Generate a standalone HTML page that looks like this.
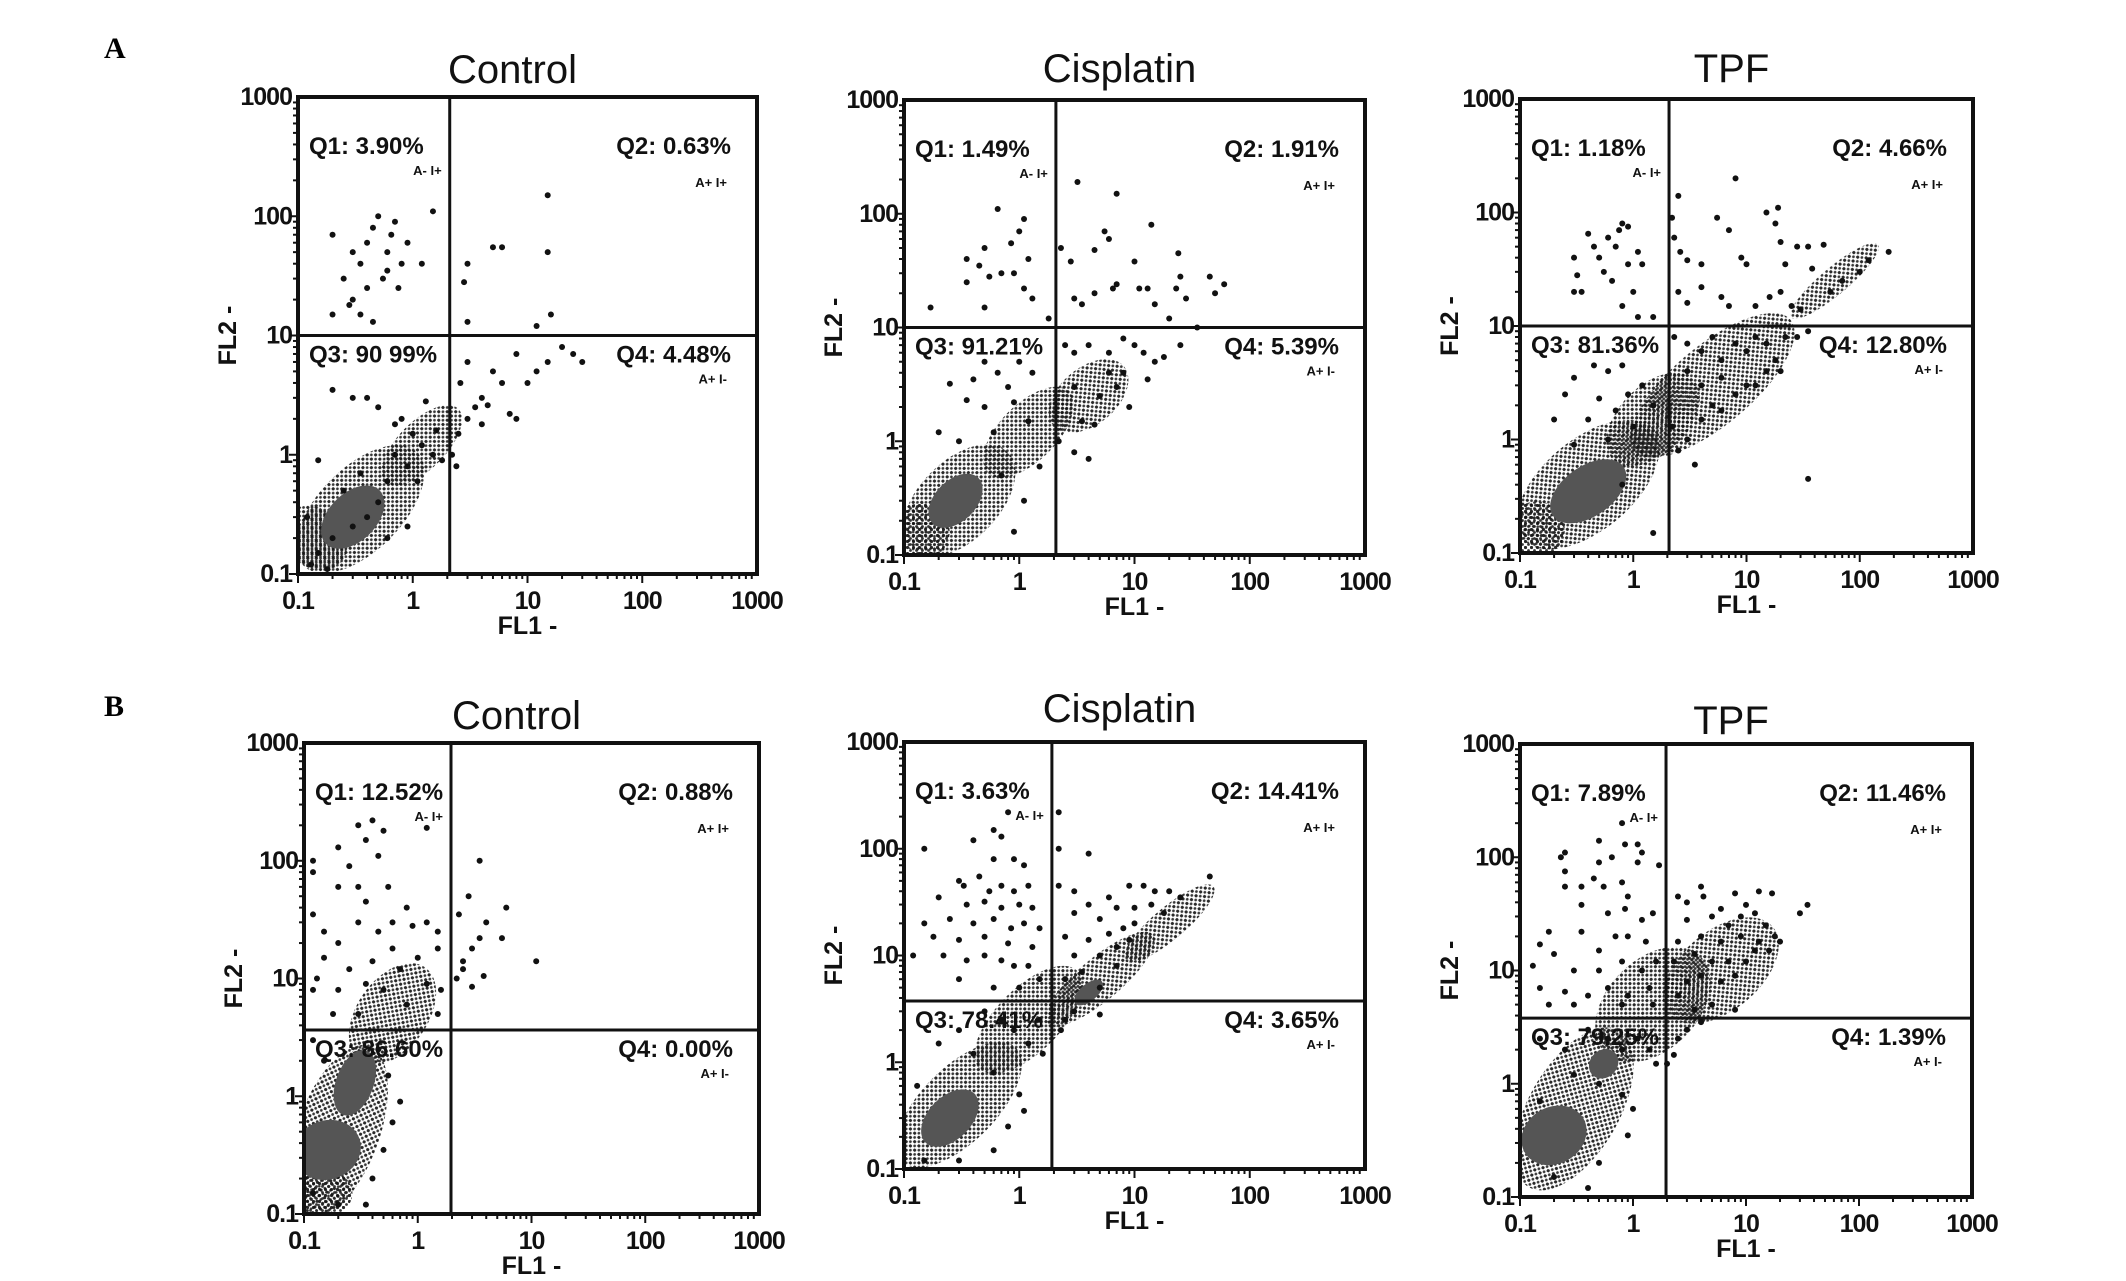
<!DOCTYPE html>
<html><head><meta charset="utf-8">
<style>
html,body{margin:0;padding:0;background:#fff;}
svg{display:block;}
text{font-family:"Liberation Sans",Arial,sans-serif;}
</style></head>
<body>
<svg id="fig" width="2126" height="1281" viewBox="0 0 2126 1281" xmlns="http://www.w3.org/2000/svg">
<defs>
<pattern id="dots" width="6" height="6" patternUnits="userSpaceOnUse">
<circle cx="1.5" cy="1.5" r="1.6" fill="#111"/><circle cx="4.5" cy="4.5" r="1.4" fill="#222"/>
</pattern>
</defs>
<text x="104" y="58" font-weight="bold" font-size="30" style="font-family:'Liberation Serif',serif">A</text>
<text x="104" y="716" font-weight="bold" font-size="30" style="font-family:'Liberation Serif',serif">B</text>
</svg>
<script>
// Panel titles and quadrant percentages
const titles = ["Control","Cisplatin","TPF","Control","Cisplatin","TPF"];
const q1Labels = ["3.90%","1.49%","1.18%","12.52%","3.63%","7.89%"];
const q2Labels = ["0.63%","1.91%","4.66%","0.88%","14.41%","11.46%"];
const q3Labels = ["90 99%","91.21%","81.36%","86.60%","78.41%","79.25%"];
const q4Labels = ["4.48%","5.39%","12.80%","0.00%","3.65%","1.39%"];
// Gate positions (data units)
const gateX = [2.1, 2.08, 2.07, 1.96, 1.92, 1.96];
const gateY = [10, 10, 10, 3.65, 3.75, 3.8];
// Axis ticks
const tickValues = [0.1, 1, 10, 100, 1000];
const tickLabels = ["0.1","1","10","100","1000"];

// Scatter points [FL1, FL2]
const ptsA1 = [[0.2,70],[0.25,30],[0.3,50],[0.35,40],[0.4,60],[0.45,80],[0.5,100],[0.6,50],[0.7,90],[0.8,40],[0.3,20],[0.4,25],[0.55,30],[0.65,70],[0.35,15],[1.5,110],[0.2,15],[0.28,18],[0.45,13],[0.6,35],[0.75,25],[0.9,60],[1.2,40],
[15,150],[3,40],[5,55],[6,55],[15,50],[3,13],[16,15],[12,12],[2.8,28],
[3,6],[5,5],[8,7],[15,6],[20,8],[30,6],[4,3],[6,4],[8,2],[3,2],[2.5,1.5],[3.5,2.5],[2.2,1],[4,1.8],[10,4],[2.6,4],[7,2.2],[12,5],[25,7],[4.5,2.6],[2.4,0.8],
[0.3,3],[0.5,2.5],[0.8,2],[1,1.5],[1.2,1.2],[0.7,1],[0.9,0.8],[1.5,1],[0.6,0.6],[0.5,0.4],[0.4,0.3],[0.3,0.25],[0.2,0.2],[0.15,0.15],[0.12,0.3],[0.25,0.5],[0.35,0.7],[1.1,0.6],[1.8,0.9],[0.15,0.9],[0.2,3.5],[0.4,3],[0.13,0.12],[0.18,0.11],[0.6,0.2],[0.9,0.25],[1.3,2.8],[0.7,1.8],[1.6,1.6]];
const ptsA2 = [[0.17,15],[0.35,40],[0.35,25],[0.45,35],[0.5,15],[0.5,50],[0.55,28],[0.65,110],[0.85,55],[0.9,30],[1,70],[1.1,90],[1.1,22],[1.2,40],[1.3,18],[0.7,30],[1.8,12],
[3.2,190],[7,150],[2.3,50],[2.8,38],[4.5,48],[5.5,70],[6,60],[6.5,22],[7,24],[10,38],[11,22],[14,80],[13,22],[15,16],[20,12],[24,45],[25,28],[23,22],[28,18],[35,10],[45,28],[50,20],[60,24],[3.5,16],[4.5,20],[3,18],
[2.5,7],[3,6],[4,7],[6,6],[8,8],[10,7],[12,6],[15,5],[18,5.5],[25,7],[6,4],[8,4],[13,3.5],[5,2.5],[7,3],[9,2],[3.5,1.5],[4.5,1.4],[3,0.8],[4,0.7],[2.2,1],[3,3],
[0.25,3.2],[0.4,3.5],[0.5,5],[0.65,4],[0.8,3],[1,5],[1.3,4],[0.35,2.3],[0.5,2],[0.9,2.2],[1.2,1.5],[0.6,1.2],[0.2,1.2],[0.3,1],[0.9,0.16],[1.1,0.3],[1.5,0.6],[0.7,0.5]];
const ptsA3 = [[0.3,40],[0.32,28],[0.3,20],[0.35,20],[0.4,65],[0.45,50],[0.5,40],[0.55,30],[0.6,60],[0.7,50],[0.75,70],[0.8,80],[0.9,75],[0.9,35],[1,20],[1.1,45],[1.2,35],[0.8,15],[1.1,12],[1.5,12],[0.65,25],
[2.2,90],[2.5,140],[2.3,60],[2.6,45],[3,38],[4,35],[5.5,90],[7,70],[8,200],[9,40],[10,35],[15,100],[19,110],[18,80],[20,55],[22,35],[28,50],[35,50],[38,32],[48,52],[4,22],[6,18],[7,15],[12,15],[16,18],[20,20],[25,15],[30,14],[3,16],[2.5,20],[100,30],[120,38],[180,45],[70,25],[55,20],
[2.3,8],[3,7],[4,6],[5,8],[6,5],[8,7],[10,6],[12,8],[15,7],[18,5],[22,8],[28,8],[35,9],[3,4],[4,3],[6,3.5],[8,2.5],[10,3],[12,3],[15,4],[4,1.5],[5,2],[3,1],[2.5,0.8],[3.5,0.6],[2.2,1.3],[35,0.45],[6,1.8],[20,4],
[0.3,3.5],[0.45,4.5],[0.6,4],[0.8,4.5],[0.9,2.5],[1.2,3],[0.25,2.5],[0.4,1.5],[0.5,2.3],[0.7,1.8],[1,1.3],[1.5,2],[0.2,1.5],[0.3,0.9],[0.6,1],[1.5,0.15],[0.8,0.4]];
const ptsB1 = [[0.12,100],[0.12,80],[0.2,130],[0.25,90],[0.3,200],[0.35,150],[0.4,220],[0.45,110],[0.5,180],[1.2,190],[0.2,60],[0.3,60],[0.35,45],[0.55,60],[0.8,40],[1.2,30],[0.12,35],[0.15,25],[0.2,20],[0.3,30],[0.45,25],[0.6,30],[0.9,28],[1.5,25],[0.15,15],[0.25,12],[0.4,14],[0.6,18],[1,15],[1.5,18],[0.12,8],[0.2,8],[0.35,9],[0.5,8],[1.2,9],[1.6,8],[0.18,5],[0.3,5],[0.8,6],[1.5,5],[0.13,10],[0.7,12],
[3.5,100],[2.8,50],[6,40],[2.3,35],[4,30],[3.5,22],[5.5,22],[3,18],[2.5,14],[11,14],[3.8,10.5],[2.2,10],[3,8.5],[2.5,12],
[0.12,3],[0.15,2],[0.45,2.5],[0.55,1.5],[0.6,0.6],[0.5,0.35],[0.4,0.2],[0.35,0.12],[0.12,0.15],[0.2,0.12],[0.7,0.9]];
const ptsB2 = [[0.4,120],[0.6,150],[0.7,130],[0.8,220],[0.15,100],[0.9,80],[1.1,70],[0.6,80],[0.3,50],[0.33,45],[0.45,55],[0.55,40],[0.7,45],[0.9,40],[1.2,45],[0.2,35],[0.35,30],[0.5,32],[0.7,28],[1,30],[1.3,28],[0.15,20],[0.25,22],[0.4,20],[0.6,22],[0.85,18],[1.1,20],[1.5,18],[0.18,15],[0.3,14],[0.5,15],[0.8,13],[1.3,12],[0.12,10],[0.22,10],[0.35,9],[0.5,10],[0.7,9],[0.9,8],[1.2,8],[1.5,6],[0.3,6],[0.6,5],[1,5],
[2.2,220],[2.2,100],[4,90],[2.2,45],[3,40],[4,30],[6,35],[9,45],[12,45],[15,40],[20,40],[25,35],[45,55],[3,25],[5,22],[7,28],[10,28],[14,30],[18,25],[2.5,15],[4,14],[6,16],[8,18],[10,20],[3,10],[5,10],[7,12],[2.5,6],[3.5,7],[7,8],[5,5],[9,14],
[5,2.8],[3,3],[2.5,2.5],[2.3,2],
[0.2,1.5],[0.3,2],[0.5,3],[0.7,2.5],[0.9,2],[1.2,1.5],[1.5,2.5],[0.4,1.2],[0.6,0.8],[1,0.5],[1.1,0.35],[0.8,0.25],[0.6,0.15],[0.3,0.12],[0.15,0.12],[0.13,0.6],[1.6,1.2]];
const ptsB3 = [[0.25,110],[0.23,100],[0.5,140],[0.65,100],[0.8,200],[0.85,130],[1.1,130],[1.2,110],[1.1,90],[0.5,90],[0.25,75],[0.25,55],[0.35,55],[0.45,65],[0.55,55],[0.8,60],[0.9,45],[1.7,85],[0.35,38],[0.6,32],[0.85,35],[1.2,28],[1.5,32],[0.15,17],[0.18,22],[0.35,22],[0.5,15],[0.7,20],[0.9,20],[1.3,18],[1.6,12],[0.13,11],[0.2,14],[0.3,10],[0.5,10],[0.8,12],[1.2,10],[0.15,7],[0.25,6.5],[0.4,6],[0.6,7],[0.9,6],[1.4,7],[0.18,5],[0.3,5],[0.8,5],[1.5,5],
[2.5,45],[3,40],[4,55],[4.2,45],[6,35],[8,48],[10,38],[13,50],[17,48],[35,38],[30,32],[3,28],[5,30],[7,25],[9,30],[12,32],[15,25],[18,20],[20,18],[2.5,18],[4,20],[6,18],[9,20],[13,18],[2.3,12],[3.5,14],[5,12],[7,12],[10,12],[3,8],[4,9],[6,8],[8,9],[2.5,6],[5,5],[8,4.5],[3.5,4.5],[12,15],[16,15],
[3,3],[4,3.5],[2.5,2.5],[2.3,1.8],[2,1.5],
[0.15,2.5],[0.25,2],[0.4,3],[0.6,2.5],[0.8,2],[1.1,2.5],[1.4,2],[0.3,1.2],[0.5,1],[0.8,0.8],[1,0.6],[0.9,0.35],[0.5,0.2],[0.4,0.12],[0.2,0.15],[0.15,0.7],[1.6,1.5]];

// Dense populations [FL1, FL2, major(decades), minor(decades), angleDeg, kind]
const clA1 = [[0.35,0.35,0.7,0.35,45,"halo"],[1.2,1.2,0.45,0.2,45,"halo"],[0.14,0.2,0.25,0.3,45,"halo"],[0.3,0.3,0.33,0.2,45,"core"]];
const clA2 = [[0.3,0.3,0.6,0.35,45,"halo"],[1.2,1.2,0.5,0.25,45,"halo"],[4,2.5,0.4,0.25,40,"halo"],[0.14,0.16,0.25,0.25,0,"halo"],[0.28,0.3,0.28,0.18,45,"core"]];
const clA3 = [[0.4,0.4,0.75,0.4,40,"halo"],[5,3,0.9,0.35,40,"halo"],[1.5,1.5,0.5,0.3,45,"halo"],[60,25,0.5,0.12,40,"halo"],[0.14,0.16,0.25,0.25,0,"halo"],[0.4,0.35,0.38,0.22,35,"core"]];
const clB1 = [[0.2,0.5,0.8,0.35,70,"halo"],[0.6,5,0.5,0.3,55,"halo"],[0.15,0.15,0.25,0.2,0,"halo"],[0.16,0.35,0.3,0.25,20,"core"],[0.28,1.3,0.3,0.16,70,"core"]];
const clB2 = [[0.3,0.4,0.7,0.35,45,"halo"],[1.2,2.5,0.6,0.3,45,"halo"],[5,6,0.6,0.2,40,"halo"],[20,20,0.5,0.15,40,"halo"],[0.25,0.3,0.3,0.2,45,"core"],[4,4.5,0.15,0.08,40,"core"]];
const clB3 = [[0.3,0.6,0.8,0.4,60,"halo"],[1.5,5,0.6,0.4,45,"halo"],[6,10,0.6,0.35,40,"halo"],[0.2,0.35,0.3,0.25,30,"core"],[0.55,1.5,0.14,0.12,45,"core"]];

const allPts = [ptsA1,ptsA2,ptsA3,ptsB1,ptsB2,ptsB3];
const allCl = [clA1,clA2,clA3,clB1,clB2,clB3];

// Layout (pixels)
const frames = [
 {l:298,r:757,t:97,b:574,ty:83},
 {l:904,r:1365,t:100,b:555,ty:82},
 {l:1520,r:1973,t:99,b:553,ty:82},
 {l:304,r:759,t:743,b:1214,ty:729},
 {l:904,r:1365,t:742,b:1169,ty:722},
 {l:1520,r:1972,t:744,b:1197,ty:734}
];
const NS="http://www.w3.org/2000/svg";
const svg=document.getElementById('fig');
function mk(tag,attrs,parent){const e=document.createElementNS(NS,tag);for(const k in attrs)e.setAttribute(k,attrs[k]);(parent||svg).appendChild(e);return e;}
function lg(v){return Math.log10(v)+1;}

frames.forEach((f,i)=>{
  const W=f.r-f.l,H=f.b-f.t;
  const sx=v=>f.l+lg(v)/4*W;
  const sy=v=>f.b-lg(v)/4*H;
  const g=mk('g',{});
  
  
  const clip=mk('clipPath',{id:'clip'+i},g);
  mk('rect',{x:f.l,y:f.t,width:W,height:H},clip);
  const data=mk('g',{'clip-path':'url(#clip'+i+')'},g);
  allCl[i].forEach(c=>{
    const cx=sx(c[0]),cy=sy(c[1]);
    const e=mk('ellipse',{cx:cx,cy:cy,rx:c[2]/4*W,ry:c[3]/4*H,transform:'rotate('+(-c[4])+' '+cx+' '+cy+')',fill:c[5]==='core'?'#555':'url(#dots)','fill-opacity':c[5]==='core'?1:0.9},data);
    
    
  });
  allPts[i].forEach(p=>{
    const d=mk('circle',{cx:sx(p[0]),cy:sy(p[1]),r:3,fill:'#111'},data);
    
    
  });
  const gx=mk('line',{x1:sx(gateX[i]),x2:sx(gateX[i]),y1:f.t,y2:f.b,stroke:'#111','stroke-width':3},g);
  
  
  const gy=mk('line',{x1:f.l,x2:f.r,y1:sy(gateY[i]),y2:sy(gateY[i]),stroke:'#111','stroke-width':3},g);
  
  
  const fr=mk('rect',{x:f.l,y:f.t,width:W,height:H,fill:'none',stroke:'#111','stroke-width':4},g);
  
  
  for(let dec=0;dec<4;dec++){
    for(let m=1;m<10;m++){
      const v=Math.pow(10,dec-1)*m;
      const len=m===1?9:5;
      mk('line',{x1:f.l,x2:f.l-len,y1:sy(v),y2:sy(v),stroke:'#111','stroke-width':2},g);
      mk('line',{x1:sx(v),x2:sx(v),y1:f.b,y2:f.b+len,stroke:'#111','stroke-width':2},g);
    }
  }
  tickValues.forEach((v,k)=>{
    const ty=mk('text',{x:f.l-6,y:sy(v)+8,'text-anchor':'end','font-size':25,'font-weight':'bold',fill:'#111','letter-spacing':'-1'},g);
    ty.textContent=tickLabels[k];
    
    
    const tx=mk('text',{x:sx(v),y:f.b+35,'text-anchor':'middle','font-size':25,'font-weight':'bold',fill:'#111','letter-spacing':'-1'},g);
    tx.textContent=tickLabels[k];
    
    
  });
  const xt=mk('text',{x:(f.l+f.r)/2,y:f.b+60,'text-anchor':'middle','font-size':25,'font-weight':'bold',fill:'#111'},g);
  xt.textContent='FL1 -';
  
  
  const yc=(f.t+f.b)/2, yx=f.l-62;
  const yt=mk('text',{x:yx,y:yc,'text-anchor':'middle','font-size':25,'font-weight':'bold',fill:'#111',transform:'rotate(-90 '+yx+' '+yc+')'},g);
  yt.textContent='FL2 -';
  
  
  const tt=mk('text',{x:(f.l+f.r)/2-15,y:f.ty,'text-anchor':'middle','font-size':40,fill:'#111'},g);
  tt.textContent=titles[i];
  
  
  const vx=sx(gateX[i]), hy=sy(gateY[i]);
  const q=[['Q1: '+q1Labels[i],f.l+11,f.t+57,'start','q1-label'],['Q2: '+q2Labels[i],f.r-26,f.t+57,'end','q2-label'],['Q3: '+q3Labels[i],f.l+11,hy+27,'start','q3-label'],['Q4: '+q4Labels[i],f.r-26,hy+27,'end','q4-label']];
  q.forEach(a=>{
    const t=mk('text',{x:a[1],y:a[2],'text-anchor':a[3],'font-size':24,'font-weight':'bold',fill:'#111'},g);
    t.textContent=a[0];
    
    
  });
  const s=[['A- I+',vx-8,f.t+78,'q1-sublabel'],['A+ I+',f.r-30,f.t+90,'q2-sublabel'],['A+ I-',f.r-30,hy+48,'q4-sublabel']];
  s.forEach(a=>{
    const t=mk('text',{x:a[1],y:a[2],'text-anchor':'end','font-size':13,'font-weight':'bold',fill:'#111'},g);
    t.textContent=a[0];
    
    
  });
});
</script>
</body></html>
